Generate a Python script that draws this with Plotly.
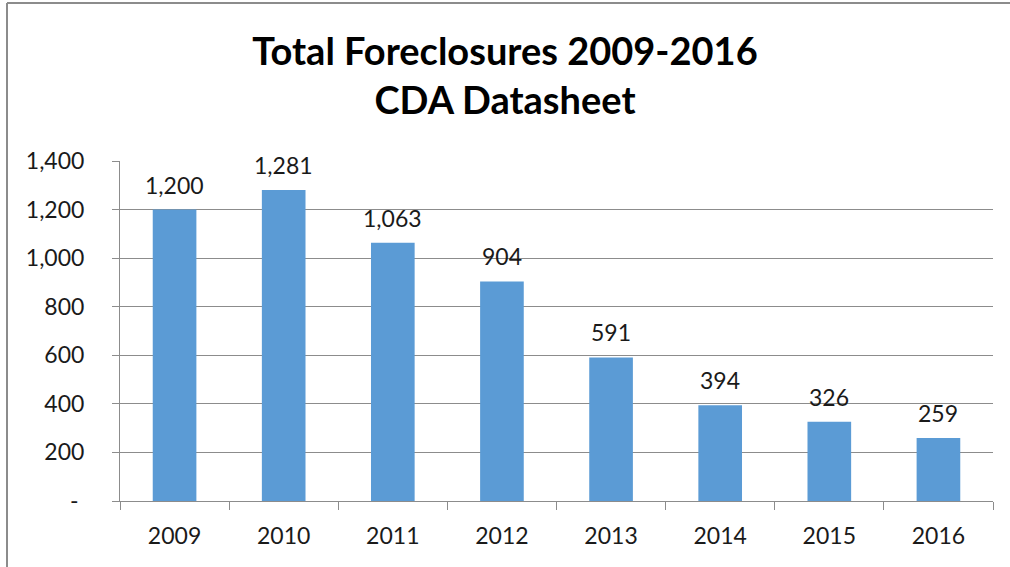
import plotly.graph_objects as go

years = ["2009", "2010", "2011", "2012", "2013", "2014", "2015", "2016"]
foreclosures = [1200, 1281, 1063, 904, 591, 394, 326, 259]
y_tick_vals = [0, 200, 400, 600, 800, 1000, 1200, 1400]
y_tick_text = ["-\u00a0", "200", "400", "600", "800", "1,000", "1,200", "1,400"]

FONT = "Lato, 'Open Sans', sans-serif"
GRID = "#8c8c8c"
TXT = "#1a1a1a"
FS = 23

fig = go.Figure(go.Bar(
    x=years, y=foreclosures,
    marker=dict(color="#5B9BD5", line=dict(width=0)),
    width=0.4,
))

for i, v in enumerate(foreclosures):
    fig.add_annotation(x=i, y=v, text=f"{v:,}", showarrow=False,
                       yanchor="middle", yshift=25,
                       font=dict(family=FONT, size=FS, color=TXT))

W, H = 1010, 567
ml, mr, mt, mb = 120, 17, 161, 66
fig.update_layout(
    width=W, height=H,
    margin=dict(l=ml, r=mr, t=mt, b=mb, autoexpand=False),
    paper_bgcolor="white", plot_bgcolor="white",
    showlegend=False,
    title=dict(
        text="<b>Total Foreclosures 2009-2016<br>CDA Datasheet</b>",
        x=0.5, xanchor="center", y=1 - 65 / H, yanchor="middle",
        font=dict(family=FONT, size=38, color="black"),
    ),
    font=dict(family=FONT, size=FS, color=TXT),
)
fig.update_xaxes(
    type="category", range=[-0.5, len(years) - 0.5],
    showline=True, linecolor=GRID, linewidth=1,
    ticks="outside", tickson="boundaries", ticklen=8, tickcolor=GRID,
    showgrid=False, tickangle=0, automargin=False,
    tickfont=dict(family=FONT, size=FS, color=TXT),
    ticklabelstandoff=14,
)
fig.update_yaxes(
    range=[0, 1400], automargin=False,
    tickvals=y_tick_vals, ticktext=y_tick_text,
    showgrid=True, gridcolor=GRID, gridwidth=1,
    showline=True, linecolor=GRID, linewidth=1,
    ticks="outside", ticklen=7, tickcolor=GRID,
    zeroline=False,
    tickfont=dict(family=FONT, size=FS, color=TXT),
    ticklabelstandoff=23,
)

# chart border (top and left edges visible in the reference)
pw = W - ml - mr
ph = H - mt - mb
def px_to_paper_x(px):
    return (px - ml) / pw
def px_to_paper_y(py):
    return (H - mb - py) / ph
fig.add_shape(type="line", xref="paper", yref="paper",
              x0=px_to_paper_x(7), x1=px_to_paper_x(1012),
              y0=px_to_paper_y(3), y1=px_to_paper_y(3),
              line=dict(color="#8c8c8c", width=2))
fig.add_shape(type="line", xref="paper", yref="paper",
              x0=px_to_paper_x(7), x1=px_to_paper_x(7),
              y0=px_to_paper_y(3), y1=px_to_paper_y(570),
              line=dict(color="#8c8c8c", width=2))

fig.write_html("out.html", config={"displayModeBar": False},
               post_script="document.body.style.margin='0';document.body.style.overflow='hidden';")
